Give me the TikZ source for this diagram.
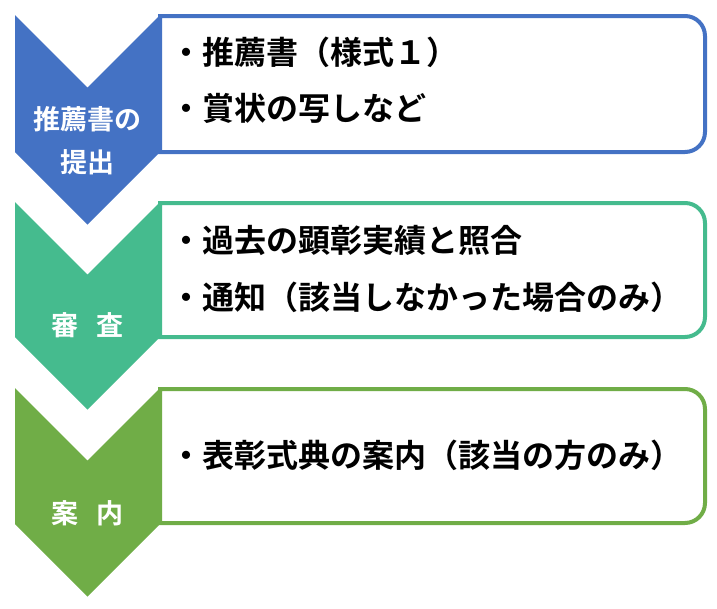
\documentclass[tikz,border=0pt]{standalone}
\usepackage{fontspec}
\setmainfont{Noto Sans CJK JP}[BoldFont={Noto Sans CJK JP Bold}]
\usepackage{xcolor}
\usepackage{tikz}
\usetikzlibrary{positioning}

\definecolor{flowblue}{HTML}{4472C4}
\definecolor{flowteal}{HTML}{45BB8E}
\definecolor{flowgreen}{HTML}{70AD47}

\begin{document}
\begin{tikzpicture}[x=1pt,y=-1pt,
  item/.style={anchor=west,inner sep=0pt,font=\bfseries\fontsize{32}{32}\selectfont},
  steptext/.style={text=white,align=center,inner sep=0pt,font=\bfseries\fontsize{27}{43}\selectfont},
  stepbox/.style={line width=4pt,fill=white}]
\useasboundingbox (0,0) rectangle (717,608);
% boxes on the right
\draw[stepbox, draw=flowblue] (160,16) [rounded corners=20pt] -- (705,16) -- (705,152) [sharp corners] -- (160,152) -- cycle;
\draw[stepbox, draw=flowteal] (160,203) [rounded corners=20pt] -- (705,203) -- (705,337) [sharp corners] -- (160,337) -- cycle;
\draw[stepbox, draw=flowgreen] (160,389) [rounded corners=20pt] -- (705,389) -- (705,523) [sharp corners] -- (160,523) -- cycle;
% chevrons
\fill[flowblue] (15,15) -- (87.5,87.5) -- (160,15) -- (160,152) -- (87.5,224.5) -- (15,152) -- cycle;
\fill[flowteal] (15,202) -- (87.5,274.5) -- (160,202) -- (160,337) -- (87.5,409.5) -- (15,337) -- cycle;
\fill[flowgreen] (15,388) -- (87.5,460.5) -- (160,388) -- (160,524) -- (87.5,596.5) -- (15,524) -- cycle;
% step names
\node[steptext] (stepa) at (87.5,141) {推薦書の\\提出};
\node[steptext] (stepb) at (87.5,325) {審\hspace{.7em}査};
\node[steptext] (stepc) at (87.5,513) {案\hspace{.7em}内};
% items
\node[item] (itema1) at (170,52) {・推薦書（様式１）};
\node[item] (itema2) at (170,108) {・賞状の写しなど};
\node[item] (itemb1) at (170,240) {・過去の顕彰実績と照合};
\node[item] (itemb2) at (170,297) {・通知（該当しなかった場合のみ）};
\node[item] (itemc1) at (170,455) {・表彰式典の案内（該当の方のみ）};
\end{tikzpicture}
\end{document}
